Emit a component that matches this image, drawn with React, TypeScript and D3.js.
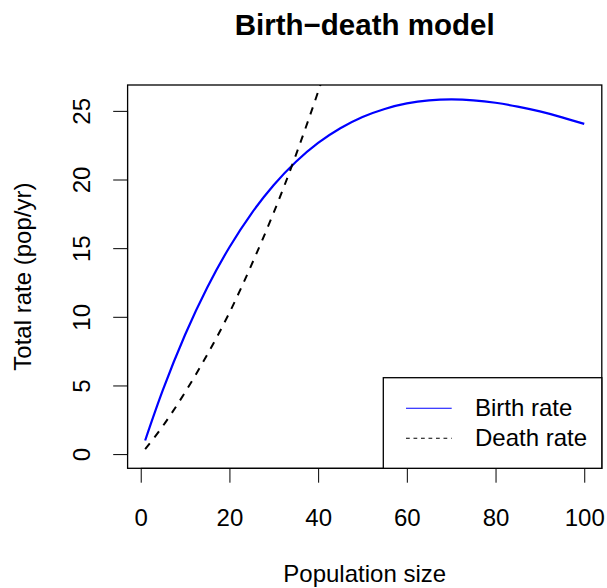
import React, { useRef, useEffect } from 'react';
import * as d3 from 'd3';

// values
const popSize = [1, 5, 10, 15, 20, 25, 30, 35, 40, 45, 50, 55, 60, 65, 70, 75, 80, 85, 90, 95, 100];
const birthRate = [0.99, 4.67, 8.69, 12.14, 15.07, 17.54, 19.6, 21.29, 22.66, 23.73, 24.55, 25.14, 25.54, 25.76, 25.83, 25.77, 25.59, 25.31, 24.96, 24.53, 24.05];
const deathPop = [1, 5, 10, 15, 20, 25, 30, 35, 40, 45, 50];
const deathRate = [0.37, 2.05, 4.5, 7.25, 10.3, 13.8, 17.6, 21.8, 26.4, 31.4, 36.8];
const xTicks = [0, 20, 40, 60, 80, 100];
const yTicks = [0, 5, 10, 15, 20, 25];
const legendLabels = ['Birth rate', 'Death rate'];

const W = 607;
const H = 588;
const FONT = "'Liberation Sans', Arial, Helvetica, sans-serif";

const App = () => {
    const ref = useRef(null);

    useEffect(() => {
        const svg = d3.select(ref.current);
        svg.selectAll('*').remove();

        var box = { left: 127.6, right: 601.8, top: 85, bottom: 468.3 };

        // R style 4% padding on each side
        var xPad = (100 - 1) * 0.04;
        var xScale = d3.scaleLinear()
            .domain([1 - xPad, 100 + xPad])
            .range([box.left, box.right]);
        var yMax = 25.85;
        var yPad = yMax * 0.04;
        var yScale = d3.scaleLinear()
            .domain([0 - yPad, yMax + yPad])
            .range([box.bottom, box.top]);

        svg.append('clipPath').attr('id', 'plotclip')
            .append('rect')
            .attr('x', box.left).attr('y', box.top)
            .attr('width', box.right - box.left).attr('height', box.bottom - box.top);

        // title
        svg.append('text')
            .attr('x', (box.left + box.right) / 2)
            .attr('y', 35)
            .attr('text-anchor', 'middle')
            .style('font-family', FONT)
            .style('font-weight', 'bold')
            .style('font-size', '29.5px')
            .text('Birth\u2212death model');

        // x axis
        var xAxis = svg.append('g')
            .attr('transform', 'translate(0,' + box.bottom + ')')
            .call(d3.axisBottom(xScale).tickValues(xTicks).tickSize(14.4).tickPadding(26).tickSizeOuter(0));
        xAxis.select('.domain').attr('stroke', '#000').attr('d',
            'M' + xScale(0) + ',0H' + xScale(100));
        xAxis.selectAll('line').attr('stroke', '#000');
        xAxis.selectAll('text')
            .style('font-family', FONT).style('font-size', '24px').attr('fill', '#000')
            .attr('dy', '0.72em');

        // y axis, labels rotated like R
        var yAxis = svg.append('g')
            .attr('transform', 'translate(' + box.left + ',0)')
            .call(d3.axisLeft(yScale).tickValues(yTicks).tickSize(14.4).tickSizeOuter(0));
        yAxis.select('.domain').attr('stroke', '#000').attr('d',
            'M0,' + yScale(0) + 'V' + yScale(25));
        yAxis.selectAll('line').attr('stroke', '#000');
        yAxis.selectAll('text').remove();
        yAxis.selectAll('.tick').append('text')
            .attr('transform', 'translate(-37.6,0) rotate(-90)')
            .attr('text-anchor', 'middle')
            .attr('fill', '#000')
            .style('font-family', FONT).style('font-size', '24px')
            .text(d => d);

        // axis titles
        svg.append('text')
            .attr('x', (box.left + box.right) / 2)
            .attr('y', 582)
            .attr('text-anchor', 'middle')
            .style('font-family', FONT).style('font-size', '24px')
            .text('Population size');
        svg.append('text')
            .attr('transform', 'translate(31,' + (box.top + box.bottom) / 2 + ') rotate(-90)')
            .attr('text-anchor', 'middle')
            .style('font-family', FONT).style('font-size', '24px')
            .text('Total rate (pop/yr)');

        // curves
        var line = d3.line()
            .x(d => xScale(d[0]))
            .y(d => yScale(d[1]))
            .curve(d3.curveNatural);

        var plot = svg.append('g').attr('clip-path', 'url(#plotclip)');
        plot.append('path')
            .datum(popSize.map((n, i) => [n, birthRate[i]]))
            .attr('d', line)
            .attr('fill', 'none')
            .attr('stroke', '#0000ff')
            .attr('stroke-width', 2.2);
        plot.append('path')
            .datum(deathPop.map((n, i) => [n, deathRate[i]]))
            .attr('d', line)
            .attr('fill', 'none')
            .attr('stroke', '#000')
            .attr('stroke-width', 2)
            .attr('stroke-dasharray', '7.5 7.5');

        // plot box
        svg.append('rect')
            .attr('x', box.left).attr('y', box.top)
            .attr('width', box.right - box.left).attr('height', box.bottom - box.top)
            .attr('fill', 'none').attr('stroke', '#000').attr('stroke-width', 1.3);

        // legend (bottomright)
        var lg = svg.append('g');
        lg.append('rect')
            .attr('x', 383.3).attr('y', 377.7)
            .attr('width', box.right - 383.3).attr('height', box.bottom - 377.7)
            .attr('fill', '#fff').attr('stroke', '#000').attr('stroke-width', 1.3);
        var styles = [{ color: '#0000ff', dash: null }, { color: '#000', dash: '3.75 3.75' }];
        legendLabels.forEach((lab, i) => {
            var y = 408.3 + i * 30;
            lg.append('line')
                .attr('x1', 406).attr('x2', 451.7)
                .attr('y1', y).attr('y2', y)
                .attr('stroke', styles[i].color)
                .attr('stroke-width', 1.1)
                .attr('stroke-dasharray', styles[i].dash);
            lg.append('text')
                .attr('x', 475).attr('y', y + 8)
                .style('font-family', FONT).style('font-size', '24px')
                .text(lab);
        });
    }, []);

    return (
        <svg ref={ref} width={W} height={H}
            style={{ position: 'absolute', left: 0, top: 0, background: '#fff' }} />
    );
};

export default App;
